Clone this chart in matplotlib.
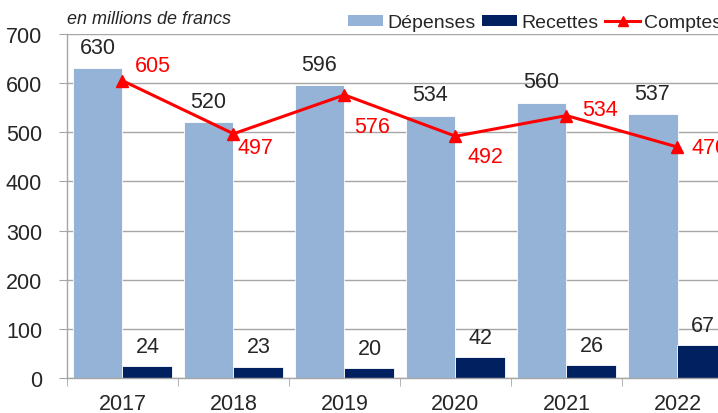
import matplotlib.pyplot as plt
import numpy as np
from matplotlib.patches import Patch
from matplotlib.lines import Line2D

plt.rcParams["font.family"] = ["Liberation Sans", "DejaVu Sans"]

# données (en millions de francs)
annees = ["2017", "2018", "2019", "2020", "2021", "2022"]
depenses = [630, 520, 596, 534, 560, 537]
recettes = [24, 23, 20, 42, 26, 67]
comptes = [605, 497, 576, 492, 534, 470]

# décalage des étiquettes rouges (pixels)
decalage_comptes = [(12, 15), (4, -14), (10, -32), (12, -20), (16, 6), (14, 0)]

c_dep = "#95B3D7"
c_rec = "#002060"
c_cpt = "#FF0000"
c_grid = "#A6A6A6"
c_txt = "#262626"
fs_num = 15.5

fig = plt.figure(figsize=(7.18, 4.14), dpi=100)
ax = fig.add_axes([67 / 718, 35 / 414, 666 / 718, 344 / 414])

x = np.arange(len(annees))
w = 0.45
ax.bar(x - w / 2, depenses, w, color=c_dep, edgecolor="white", linewidth=0.6, zorder=2)
ax.bar(x + w / 2, recettes, w, color=c_rec, edgecolor="white", linewidth=0.6, zorder=2)
ax.plot(x, comptes, color=c_cpt, linewidth=2.2, marker="^", markersize=8, zorder=3)

px = 72 / 100
for i in range(len(annees)):
    ax.annotate(str(depenses[i]), (x[i] - w / 2, depenses[i]), xytext=(0, 21 * px),
                textcoords="offset points", ha="center", va="center", fontsize=fs_num, color=c_txt)
    ax.annotate(str(recettes[i]), (x[i] + w / 2, recettes[i]), xytext=(0, 20 * px),
                textcoords="offset points", ha="center", va="center", fontsize=fs_num, color=c_txt)
    dx, dy = decalage_comptes[i]
    ax.annotate(str(comptes[i]), (x[i], comptes[i]), xytext=(dx * px, dy * px),
                textcoords="offset points", ha="left", va="center", fontsize=fs_num, color=c_cpt)

ax.set_xlim(-0.5, len(annees) - 0.5)
ax.set_ylim(0, 700)
ax.set_yticks(range(0, 701, 100))
ax.set_xticks(x)
ax.set_xticklabels(annees)
ax.set_xticks(np.arange(-0.5, len(annees), 1), minor=True)
ax.tick_params(axis="x", which="major", length=0, labelsize=fs_num, pad=11, labelcolor=c_txt)
ax.tick_params(axis="x", which="minor", length=6, color=c_grid, direction="out")
ax.tick_params(axis="y", length=6, color=c_grid, labelsize=fs_num, pad=12, labelcolor=c_txt)

ax.grid(axis="y", color=c_grid, linewidth=1, zorder=0)
ax.set_axisbelow(True)
for s in ["top", "right"]:
    ax.spines[s].set_visible(False)
for s in ["left", "bottom"]:
    ax.spines[s].set_color(c_grid)
    ax.spines[s].set_linewidth(1)

fig.text(67 / 718, 1 - 20 / 414, "en millions de francs", fontsize=13, style="italic",
         ha="left", va="center", color=c_txt)

handles = [
    Patch(facecolor=c_dep, edgecolor="none"),
    Patch(facecolor=c_rec, edgecolor="none"),
    Line2D([], [], color=c_cpt, linewidth=2.2, marker="^", markersize=7),
]
fig.legend(handles, ["Dépenses", "Recettes", "Comptes"], loc="center left",
           bbox_to_anchor=(348 / 718, 1 - 24 / 414), ncol=3, frameon=False, fontsize=14,
           borderpad=0, borderaxespad=0, handlelength=1.8, handleheight=0.5,
           handletextpad=0.2, columnspacing=0.36, labelcolor=c_txt)

fig.savefig("out.png", dpi=100)
